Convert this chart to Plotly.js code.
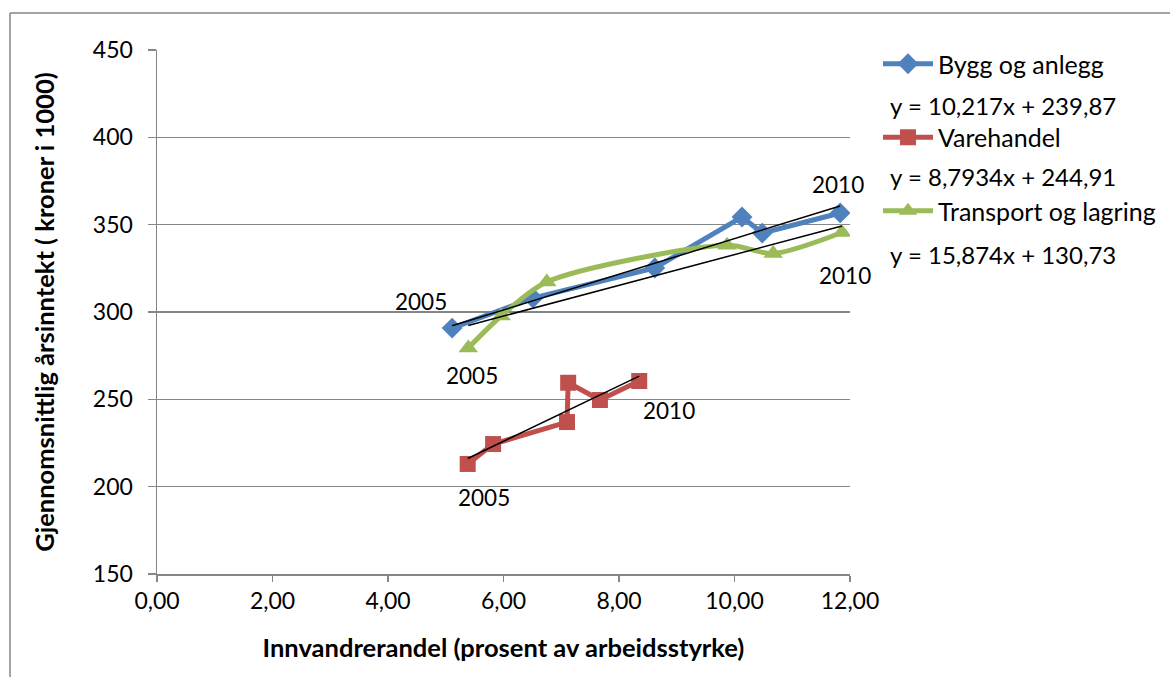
<!DOCTYPE html>
<html>
<head>
<meta charset="utf-8">
<script src="https://cdn.plot.ly/plotly-3.0.1.min.js"></script>
<style>html,body{margin:0;padding:0;background:#fff}#chart{width:1170px;height:677px}</style>
</head>
<body>
<div id="chart"></div>
<script>
// Data (x: Innvandrerandel %, y: income in 1000 NOK), 2005..2010
const seriesNames = ["Bygg og anlegg", "Varehandel", "Transport og lagring"];
const byggX = [5.11, 6.51, 8.62, 10.13, 10.48, 11.83];
const byggY = [290.8, 308.0, 325.2, 354.4, 345.2, 356.7];
const vareX = [5.38, 5.82, 7.10, 7.12, 7.67, 8.35];
const vareY = [213.0, 224.4, 237.0, 259.5, 249.6, 260.5];
const transX = [5.39, 5.96, 6.75, 9.87, 10.67, 11.86];
const transY = [279.4, 297.7, 317.2, 338.2, 333.5, 345.5];
// Trendline coefficients (slope, intercept) and their labels
const trendBygg = [10.217, 239.87];
const trendVare = [15.874, 130.73];
const trendTrans = [8.7934, 244.91];
const eqLabels = ["y = 10,217x + 239,87", "y = 8,7934x + 244,91", "y = 15,874x + 130,73"];
const yearLabels = ["2005", "2010"];
const xTickVals = [0, 2, 4, 6, 8, 10, 12];
const xTickText = ["0,00", "2,00", "4,00", "6,00", "8,00", "10,00", "12,00"];
const yTickVals = [150, 200, 250, 300, 350, 400, 450];

const FONT = "Lato, 'Open Sans', sans-serif";
const blue = "#4F81BD", red = "#C0504D", green = "#9BBB59", gridC = "#868686";

function trend(xs, c) {
  const x0 = Math.min(...xs), x1 = Math.max(...xs);
  return {x: [x0, x1], y: [c[0] * x0 + c[1], c[0] * x1 + c[1]]};
}
const tB = trend(byggX, trendBygg), tV = trend(vareX, trendVare), tT = trend(transX, trendTrans);

const traces = [
  {x: byggX, y: byggY, name: seriesNames[0], mode: "lines+markers", legendgroup: "a",
   line: {color: blue, width: 5}, marker: {symbol: "diamond", size: 16, color: blue}},
  {x: vareX, y: vareY, name: seriesNames[1], mode: "lines+markers", legendgroup: "b",
   line: {color: red, width: 5}, marker: {symbol: "square", size: 16, color: red}},
  {x: transX, y: transY, name: seriesNames[2], mode: "lines+markers", legendgroup: "c",
   line: {color: green, width: 5, shape: "spline", smoothing: 0.8}, marker: {symbol: "triangle-up", size: 17, color: green}},
  {x: tB.x, y: tB.y, mode: "lines", showlegend: false, line: {color: "#000", width: 1.5}, hoverinfo: "skip"},
  {x: tV.x, y: tV.y, mode: "lines", showlegend: false, line: {color: "#000", width: 1.5}, hoverinfo: "skip"},
  {x: tT.x, y: tT.y, mode: "lines", showlegend: false, line: {color: "#000", width: 1.5}, hoverinfo: "skip"}
];

const n = byggX.length - 1;
const lbl = (x, y, text, xs, ys) => ({x, y, xref: "x", yref: "y", text, showarrow: false,
  xshift: xs, yshift: ys, font: {family: FONT, size: 22.5, color: "#000"}});
const eq = (y, text) => ({x: (888 - 157) / 693, y, xref: "paper", yref: "paper", text, showarrow: false,
  xanchor: "left", yanchor: "middle", font: {family: FONT, size: 24, color: "#000"}});

const annotations = [
  lbl(byggX[0], byggY[0], yearLabels[0], -31, 27),
  lbl(byggX[n], byggY[n], yearLabels[1], -2, 28),
  lbl(transX[0], transY[0], yearLabels[0], 4, -28),
  lbl(transX[n], transY[n], yearLabels[1], 3, -43),
  lbl(vareX[0], vareY[0], yearLabels[0], 16, -34),
  lbl(vareX[n], vareY[n], yearLabels[1], 30, -30),
  eq((574 - 106) / 524, eqLabels[0]),
  eq((574 - 176) / 524, eqLabels[1]),
  eq((574 - 254) / 524, eqLabels[2])
];

const layout = {
  width: 1170, height: 677,
  margin: {l: 157, r: 320, t: 50, b: 103},
  paper_bgcolor: "#fff", plot_bgcolor: "#fff",
  font: {family: FONT, size: 23, color: "#000"},
  showlegend: true,
  legend: {xref: "container", yref: "container", x: 878 / 1170, y: 1 - 41 / 677, xanchor: "left", yanchor: "top",
    traceorder: "grouped", tracegroupgap: 38, font: {family: FONT, size: 25, color: "#000"},
    bgcolor: "rgba(0,0,0,0)", itemwidth: 50},
  xaxis: {range: [0, 12], tickvals: xTickVals, ticktext: xTickText, showgrid: false, zeroline: false,
    showline: true, linecolor: gridC, linewidth: 1.5, ticks: "outside", ticklen: 6, tickcolor: gridC, tickwidth: 1.5,
    tickfont: {family: FONT, size: 23, color: "#000"},
    title: {text: "Innvandrerandel (prosent av arbeidsstyrke)", font: {family: FONT, size: 25.5, color: "#000", weight: "bold"}, standoff: 26}},
  yaxis: {range: [150, 450], tickvals: yTickVals, showgrid: true, gridcolor: gridC, gridwidth: 1.5, zeroline: false,
    showline: true, linecolor: gridC, linewidth: 1.5, ticks: "outside", ticklen: 8, tickcolor: gridC, tickwidth: 1.5,
    tickfont: {family: FONT, size: 23, color: "#000"}, ticklabelstandoff: 10,
    title: {text: "Gjennomsnittlig årsinntekt ( kroner i 1000)", font: {family: FONT, size: 25.5, color: "#000", weight: "bold"}, standoff: 31}},
  shapes: [
    {type: "line", xref: "paper", yref: "paper", x0: (10 - 157) / 693, x1: (10 - 157) / 693, y0: (574 - 13) / 524, y1: -0.3, line: {color: gridC, width: 1.5}},
    {type: "line", xref: "paper", yref: "paper", x0: (10 - 157) / 693, x1: 1.6, y0: (574 - 13) / 524, y1: (574 - 13) / 524, line: {color: gridC, width: 1.5}}
  ],
  annotations: annotations
};

Plotly.newPlot("chart", traces, layout, {displayModeBar: false, staticPlot: true});
</script>
</body>
</html>
